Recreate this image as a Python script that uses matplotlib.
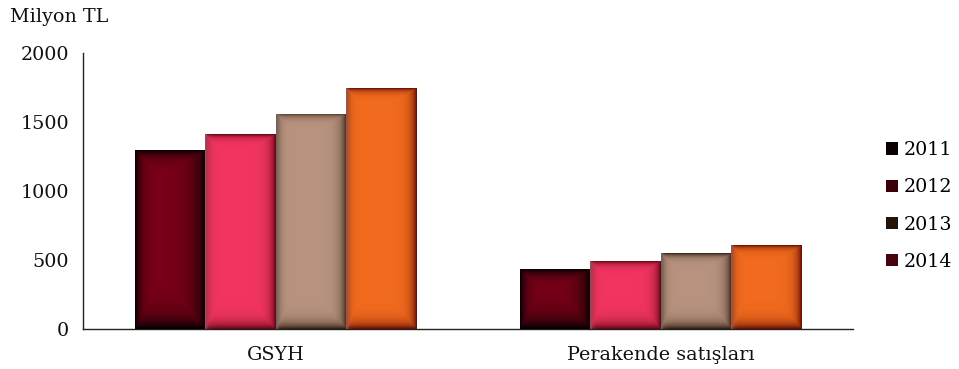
import numpy as np
import matplotlib
matplotlib.use("Agg")
import matplotlib.pyplot as plt
from matplotlib.patches import Patch
from matplotlib.colors import to_rgb

categories = ["GSYH", "Perakende satışları"]
years = ["2011", "2012", "2013", "2014"]
values = {
    "2011": [1295, 433],
    "2012": [1413, 490],
    "2013": [1560, 549],
    "2014": [1746, 607],
}
bar_colors = ["#7a0018", "#f23562", "#b89380", "#f26b1e"]
edge_colors = ["#000000", "#5a000c", "#2a1608", "#5a0600"]
legend_colors = ["#0a0000", "#3a0008", "#241408", "#4a0008"]
yticks = [0, 500, 1000, 1500, 2000]

plt.rcParams['font.family'] = ['DejaVu Serif']
FS = 13.8

W, H = 959, 369
fig = plt.figure(figsize=(W / 100, H / 100), dpi=100)
ax = fig.add_axes([83 / W, 1 - 329 / H, (853 - 83) / W, (329 - 53) / H])
ax.set_xlim(0, 2)
ax.set_ylim(0, 2000)

x = np.arange(len(categories)) + 0.5
bw = 0.182
px_per_x = (853 - 83) / 2
px_per_y = (329 - 53) / 2000

for i, yr in enumerate(years):
    xs = x + (i - 1.5) * bw
    bars = ax.bar(xs, values[yr], width=bw, color=bar_colors[i], zorder=2)
    base = np.array(to_rgb(bar_colors[i]))
    edge = np.array(to_rgb(edge_colors[i]))
    ew = 7.0 if i == 0 else 3.5
    for b in bars:
        bx, by, bwid, bh = b.get_x(), b.get_y(), b.get_width(), b.get_height()
        nx = max(int(bwid * px_per_x), 2)
        ny = max(int(bh * px_per_y), 2)
        xx = np.arange(nx) + 0.5
        yy = np.arange(ny) + 0.5
        dl = xx[None, :]
        dr = nx - xx[None, :]
        dt = yy[:, None]
        db = ny - yy[:, None]
        d = np.minimum(np.minimum(dl * 1.2, dr * 0.7), np.minimum(dt * 0.6, db * 1.2))
        a = np.exp(-d / ew)
        if i != 0:
            hl = np.exp(-dl / 2.0) * 0.35 * np.ones((ny, 1))
        else:
            hl = np.zeros((ny, nx))
        img = base[None, None, :] * (1 - a[..., None]) + edge[None, None, :] * a[..., None]
        img = img * (1 - hl[..., None]) + hl[..., None] * 1.0
        img = np.clip(img, 0, 1)
        im = ax.imshow(img, extent=[bx, bx + bwid, by + bh, by], origin='upper',
                       aspect='auto', zorder=3, interpolation='bilinear')
        im.set_clip_path(b)
ax.set_xlim(0, 2)
ax.set_ylim(0, 2000)

for s in ["top", "right"]:
    ax.spines[s].set_visible(False)
ax.spines["left"].set_color("#222222")
ax.spines["bottom"].set_color("#222222")
ax.spines["left"].set_linewidth(1.0)
ax.spines["bottom"].set_linewidth(1.0)

ax.set_yticks(yticks)
ax.set_yticklabels([str(v) for v in yticks], fontsize=FS)
ax.set_xticks(x)
ax.set_xticklabels(categories, fontsize=FS)
ax.tick_params(axis='both', length=0, colors="#111111")
ax.tick_params(axis='y', pad=10)
ax.tick_params(axis='x', pad=12)

fig.text(10 / W, 1 - 17 / H, "Milyon TL", fontsize=FS, va='center', ha='left', color="#111111")

handles = [Patch(facecolor=legend_colors[i], edgecolor='none', label=years[i]) for i in range(4)]
fig.legend(handles=handles, loc='center left', bbox_to_anchor=(886 / W, 1 - 206 / H),
           frameon=False, fontsize=FS, handlelength=0.6, handleheight=0.6,
           handletextpad=0.3, labelspacing=1.0, borderpad=0, borderaxespad=0)

fig.savefig("out.png", dpi=100, facecolor="white")
